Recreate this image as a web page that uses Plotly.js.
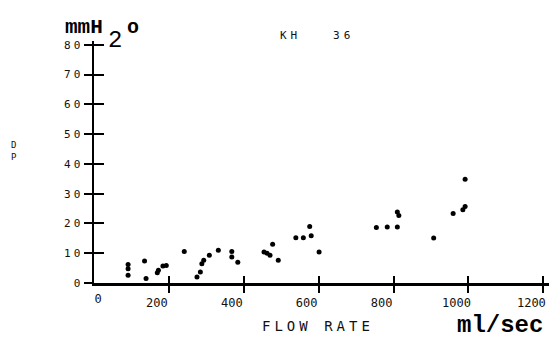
<!DOCTYPE html>
<html>
<head>
<meta charset="utf-8">
<script src="https://cdn.plot.ly/plotly-3.0.1.min.js"></script>
<style>
  html, body { margin: 0; padding: 0; background: #fff; }
  #chart { width: 553px; height: 338px; }
  .ytick text { letter-spacing: 3px; }
  g.annotation[data-index="3"] text, g.annotation[data-index="5"] text { letter-spacing: 4px; }
</style>
</head>
<body>
<div id="chart"></div>
<script>
// Flow rate (ml/sec) and pressure drop DP (mmH2O)
const flowRate = [91, 91, 91, 135, 139, 169, 172, 184, 193, 241,
                  275, 284, 288, 293, 308, 332, 368, 368, 384, 454,
                  462, 470, 477, 492, 539, 559, 576, 580, 601, 754,
                  783, 810, 810, 814, 907, 959, 985, 991, 991];
const pressureDrop = [6.2, 4.8, 2.6, 7.4, 1.5, 3.4, 4.3, 5.7, 5.9, 10.6,
                      2.0, 3.7, 6.5, 7.6, 9.3, 11.0, 10.6, 8.7, 7.0, 10.4,
                      10.0, 9.3, 13.0, 7.6, 15.2, 15.2, 19.0, 15.9, 10.4, 18.6,
                      18.8, 18.8, 23.8, 22.7, 15.1, 23.3, 24.6, 25.7, 34.8];

const xTickVals = [200, 400, 600, 800, 1000, 1200];
const xTickText = ['200', '400', '600', '800', '1000', '1200'];
const yTickVals = [0, 10, 20, 30, 40, 50, 60, 70, 80];
const yTickText = ['0', '10', '20', '30', '40', '50', '60', '70', '80'];

const tickFont = {family: 'DejaVu Sans Mono', size: 11, color: '#111'};
const xTickFont = {family: 'DejaVu Sans Mono', size: 12, color: '#111'};
const xRange = [0, 1215];
const yRange = [0, 81.26];

const traces = [
  {
    type: 'scatter', mode: 'markers',
    x: flowRate, y: pressureDrop,
    marker: {color: '#000', size: 5},
    cliponaxis: false, hoverinfo: 'skip', showlegend: false
  },
  {
    type: 'scatter', mode: 'markers',
    x: flowRate, y: pressureDrop, xaxis: 'x2', yaxis: 'y2',
    marker: {color: 'rgba(0,0,0,0)', size: 1},
    hoverinfo: 'skip', showlegend: false
  },
  {
    type: 'scatter', mode: 'markers',
    x: flowRate, y: pressureDrop, xaxis: 'x3', yaxis: 'y',
    marker: {color: 'rgba(0,0,0,0)', size: 1},
    hoverinfo: 'skip', showlegend: false
  }
];

const layout = {
  width: 553, height: 338,
  margin: {l: 94, r: 4, t: 41, b: 55, pad: 0},
  paper_bgcolor: '#fff', plot_bgcolor: '#fff',
  showlegend: false,
  xaxis: {
    range: xRange, showgrid: false, zeroline: false,
    showline: true, linecolor: '#000', linewidth: 2.5,
    ticks: 'outside', ticklen: 7, tickwidth: 2, tickcolor: '#000',
    tickvals: xTickVals, ticktext: xTickText, tickangle: 0,
    tickfont: xTickFont, ticklabelshift: -12, ticklabelstandoff: 0
  },
  xaxis2: {
    range: xRange, overlaying: 'x', anchor: 'y2', side: 'bottom',
    showgrid: false, zeroline: false, showline: false,
    ticks: 'inside', ticklen: 7, tickwidth: 2, tickcolor: '#000',
    tickvals: xTickVals, showticklabels: false
  },
  xaxis3: {
    range: xRange, overlaying: 'x', anchor: 'y', side: 'bottom',
    showgrid: false, zeroline: false, showline: false,
    ticks: '', tickvals: [0], ticktext: ['0'], tickangle: 0,
    tickfont: xTickFont, ticklabelshift: 4, ticklabelstandoff: 7
  },
  yaxis: {
    range: yRange, showgrid: false, zeroline: false,
    showline: true, linecolor: '#000', linewidth: 2.5,
    ticks: 'outside', ticklen: 8, tickwidth: 2, tickcolor: '#000',
    tickvals: yTickVals, ticktext: yTickText, tickangle: 0,
    tickfont: tickFont, ticklabelstandoff: -2
  },
  yaxis2: {
    range: yRange, overlaying: 'y', anchor: 'x2', side: 'left',
    showgrid: false, zeroline: false, showline: false,
    ticks: 'inside', ticklen: 10, tickwidth: 2, tickcolor: '#000',
    tickvals: yTickVals.slice(1), showticklabels: false
  },
  annotations: [
    {text: 'mmH', xref: 'paper', yref: 'paper', x: -0.022, y: 1.056, showarrow: false,
     xanchor: 'center', yanchor: 'middle',
     font: {family: 'Liberation Mono', size: 21, weight: 'bold', color: '#000'}},
    {text: '2', xref: 'paper', yref: 'paper', x: 0.047, y: 1.002, showarrow: false,
     xanchor: 'center', yanchor: 'middle',
     font: {family: 'Liberation Mono', size: 24, color: '#000'}},
    {text: 'o', xref: 'paper', yref: 'paper', x: 0.085, y: 1.056, showarrow: false,
     xanchor: 'center', yanchor: 'middle',
     font: {family: 'Liberation Mono', size: 20, weight: 'bold', color: '#000'}},
    {text: 'KH   36', xref: 'paper', yref: 'paper', x: 0.490, y: 1.021, showarrow: false,
     xanchor: 'center', yanchor: 'middle',
     font: {family: 'DejaVu Sans Mono', size: 11, color: '#111'}},
    {text: 'D<br>P', xref: 'paper', yref: 'paper', x: -0.175, y: 0.545, showarrow: false,
     xanchor: 'center', yanchor: 'middle',
     font: {family: 'DejaVu Sans Mono', size: 9, color: '#111'}},
    {text: 'FLOW RATE', xref: 'paper', yref: 'paper', x: 0.492, y: -0.178, showarrow: false,
     xanchor: 'center', yanchor: 'middle',
     font: {family: 'DejaVu Sans Mono', size: 14, color: '#111'}},
    {text: 'ml/sec', xref: 'paper', yref: 'paper', x: 0.892, y: -0.175, showarrow: false,
     xanchor: 'center', yanchor: 'middle',
     font: {family: 'Liberation Mono', size: 24, weight: 'bold', color: '#000'}}
  ]
};

Plotly.newPlot('chart', traces, layout, {staticPlot: true, displayModeBar: false});
</script>
</body>
</html>
